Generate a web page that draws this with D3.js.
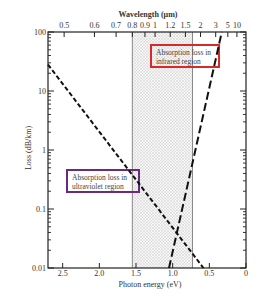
<!DOCTYPE html>
<html><head><meta charset="utf-8">
<script src="https://cdn.jsdelivr.net/npm/d3@7"></script>
<style>body{margin:0;background:#fff}svg{display:block;font-family:"Liberation Serif","DejaVu Serif",serif}</style>
</head><body><svg id="c" width="275" height="300"></svg>
<script>
const energyTicks = [2.5, 2.0, 1.5, 1.0, 0.5, 0];
const energyLabels = ["2.5", "2.0", "1.5", "1.0", "0.5", "0"];
const wavelengthTicks = [0.5, 0.6, 0.7, 0.8, 0.9, 1, 1.2, 1.5, 2, 3, 5, 10];
const lossTicks = [100, 10, 1, 0.1, 0.01];
const lossLabels = ["100", "10", "1", "0.1", "0.01"];
const uvEnergy = [2.7, 0.58];
const uvLoss = [28, 0.01];
const irEnergy = [1.05, 0.33];
const irLoss = [0.01, 100];
const windowWavelength = [0.8, 1.7];

const svg = d3.select("#c");
const L = 48, R = 246, T = 32, B = 268;
const x = d3.scaleLinear().domain([2.7, 0]).range([L, R]);
const y = d3.scaleLog().domain([0.01, 100]).range([B, T]);
const toE = w => 1.24 / w;

const defs = svg.append("defs");
const pat = defs.append("pattern").attr("id", "h").attr("patternUnits", "userSpaceOnUse").attr("width", 3).attr("height", 3);
pat.append("rect").attr("width", 3).attr("height", 3).attr("fill", "#f7f7f7");
pat.append("path").attr("d", "M0,3L3,0M0,0L3,3").attr("stroke", "#cfcfcf").attr("stroke-width", 0.5);

// shaded window
const xa = x(toE(windowWavelength[0])), xb = x(toE(windowWavelength[1]));
svg.append("rect").attr("x", xa).attr("y", T).attr("width", xb - xa).attr("height", B - T).attr("fill", "url(#h)");
svg.append("line").attr("x1", xa).attr("x2", xa).attr("y1", T).attr("y2", B).attr("stroke", "#888").attr("stroke-width", 1);
svg.append("line").attr("x1", xb).attr("x2", xb).attr("y1", T).attr("y2", B).attr("stroke", "#888").attr("stroke-width", 1);

// axes
const ax = svg.append("g").attr("stroke", "#222").attr("fill", "none");
ax.append("rect").attr("x", L).attr("y", T).attr("width", R - L).attr("height", B - T).attr("stroke-width", 1.2);

const minor = [];
for (let e = -2; e < 2; e++) for (let k = 2; k <= 9; k++) minor.push(k * Math.pow(10, e));
minor.forEach(v => {
  ax.append("line").attr("x1", L).attr("x2", L + 3).attr("y1", y(v)).attr("y2", y(v)).attr("stroke-width", 0.9);
  ax.append("line").attr("x1", R).attr("x2", R - 3).attr("y1", y(v)).attr("y2", y(v)).attr("stroke-width", 0.9);
});
lossTicks.forEach(v => {
  ax.append("line").attr("x1", L).attr("x2", L + 6).attr("y1", y(v)).attr("y2", y(v)).attr("stroke-width", 1);
  ax.append("line").attr("x1", R).attr("x2", R - 6).attr("y1", y(v)).attr("y2", y(v)).attr("stroke-width", 1);
});
energyTicks.forEach(v => {
  ax.append("line").attr("x1", x(v)).attr("x2", x(v)).attr("y1", B).attr("y2", B - 5).attr("stroke-width", 1);
});
wavelengthTicks.forEach(w => {
  ax.append("line").attr("x1", x(toE(w))).attr("x2", x(toE(w))).attr("y1", T).attr("y2", T + 5).attr("stroke-width", 1);
});

const txt = svg.append("g").attr("fill", "#333").attr("font-size", 8);
lossTicks.forEach((v, i) => txt.append("text").attr("x", L - 2).attr("y", y(v) + 3).attr("text-anchor", "end").text(lossLabels[i]));
energyTicks.forEach((v, i) => txt.append("text").attr("x", x(v)).attr("y", B + 8).attr("text-anchor", "middle").text(energyLabels[i]));
wavelengthTicks.forEach(w => txt.append("text").attr("x", x(toE(w))).attr("y", T - 4).attr("text-anchor", "middle").text(w));
txt.append("text").attr("x", 148).attr("y", 17).attr("text-anchor", "middle").attr("font-weight", "bold").text("Wavelength (µm)");
txt.append("text").attr("x", 150).attr("y", 287).attr("text-anchor", "middle").text("Photon energy (eV)");
txt.append("text").attr("transform", "translate(31,148) rotate(-90)").attr("text-anchor", "middle").text("Loss (dB/km)");

// boxes
function box(x0, y0, w, h, col, l1, l2) {
  svg.append("rect").attr("x", x0).attr("y", y0).attr("width", w).attr("height", h).attr("fill", "none").attr("stroke", col).attr("stroke-width", 2);
  const g = svg.append("g").attr("font-size", 7.5).attr("fill", "#444");
  g.append("text").attr("x", x0 + 5).attr("y", y0 + 9.5).text(l1);
  g.append("text").attr("x", x0 + 5).attr("y", y0 + 18.5).text(l2);
}
box(151, 45, 68, 22, "#d62a2a", "Absorption loss in", "infrared region");
box(67, 170, 72, 22, "#6b2a7e", "Absorption loss in", "ultraviolet region");

// lines
const line = d3.line().x(d => x(d[0])).y(d => y(d[1]));
svg.append("path").attr("d", line(uvEnergy.map((e, i) => [e, uvLoss[i]]))).attr("fill", "none").attr("stroke", "#111").attr("stroke-width", 2).attr("stroke-dasharray", "4.5,2.5");
svg.append("path").attr("d", line(irEnergy.map((e, i) => [e, irLoss[i]]))).attr("fill", "none").attr("stroke", "#111").attr("stroke-width", 2).attr("stroke-dasharray", "8,3.5");
</script></body></html>
